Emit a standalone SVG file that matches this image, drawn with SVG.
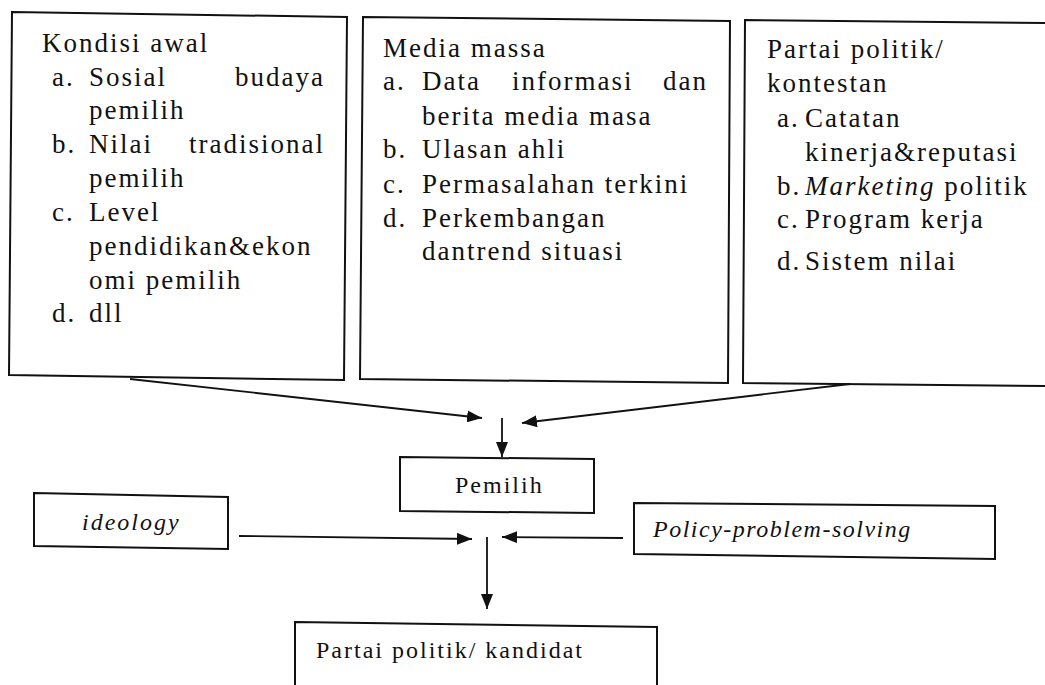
<svg xmlns="http://www.w3.org/2000/svg" width="1045" height="685" viewBox="0 0 1045 685">
<style>
.box{fill:none;stroke:#111;stroke-width:2}
.t{font-size:27px;letter-spacing:2px;fill:#111}
.s{font-size:24px;letter-spacing:2px;fill:#111}
.i{font-style:italic}
.c{fill:none;stroke:#111;stroke-width:1.8}
</style>
<defs>
<marker id="ah" markerUnits="userSpaceOnUse" markerWidth="16" markerHeight="12" refX="15" refY="6" orient="auto">
<path d="M0,0 L15,6 L0,12 z" fill="#111"/>
</marker>
</defs>
<rect width="1045" height="685" fill="#fff"/>
<g font-family="Liberation Serif, serif">
<g id="kondisi">
<polygon class="box" points="12,12 347,17 344,380 9,375"/>
<text class="t" x="42" y="52">Kondisi awal</text>
<text class="t" x="52" y="86">a.</text>
<text class="t" x="89" y="86">Sosial</text>
<text class="t" x="325" y="86" text-anchor="end">budaya</text>
<text class="t" x="89" y="119">pemilih</text>
<text class="t" x="52" y="153">b.</text>
<text class="t" x="89" y="153">Nilai</text>
<text class="t" x="325" y="153" text-anchor="end">tradisional</text>
<text class="t" x="89" y="187">pemilih</text>
<text class="t" x="52" y="221">c.</text>
<text class="t" x="89" y="221">Level</text>
<text class="t" x="89" y="255">pendidikan&amp;ekon</text>
<text class="t" x="89" y="289">omi pemilih</text>
<text class="t" x="52" y="322">d.</text>
<text class="t" x="89" y="322">dll</text>
</g>

<g id="media">
<polygon class="box" points="363,17 730,21 728,383 360,379"/>
<text class="t" x="383" y="57">Media massa</text>
<text class="t" x="383" y="90">a.</text>
<text class="t" x="422" y="90">Data</text>
<text class="t" x="512" y="90">informasi</text>
<text class="t" x="708" y="90" text-anchor="end">dan</text>
<text class="t" x="422" y="125">berita media masa</text>
<text class="t" x="383" y="158">b.</text>
<text class="t" x="422" y="158">Ulasan ahli</text>
<text class="t" x="383" y="193">c.</text>
<text class="t" x="422" y="193">Permasalahan terkini</text>
<text class="t" x="383" y="227">d.</text>
<text class="t" x="422" y="227">Perkembangan</text>
<text class="t" x="422" y="260">dantrend situasi</text>
</g>

<g id="partai">
<polygon class="box" points="745,20 1050,23 1050,386 743,383"/>
<text class="t" x="767" y="58">Partai politik/</text>
<text class="t" x="767" y="92">kontestan</text>
<text class="t" x="777" y="127">a.</text>
<text class="t" x="805" y="127">Catatan</text>
<text class="t" x="805" y="161">kinerja&amp;reputasi</text>
<text class="t" x="777" y="195">b.</text>
<text class="t" x="805" y="195"><tspan class="i">Marketing</tspan> politik</text>
<text class="t" x="777" y="228">c.</text>
<text class="t" x="805" y="228">Program kerja</text>
<text class="t" x="777" y="270">d.</text>
<text class="t" x="805" y="270">Sistem nilai</text>
</g>

<g id="pemilih">
<polygon class="box" points="400,457 594,459 594,513 400,511"/>
<text class="s" x="455" y="493">Pemilih</text>
</g>

<g id="ideology">
<polygon class="box" points="34,493 228,497 228,549 34,546"/>
<text class="s i" x="82" y="530">ideology</text>
</g>

<g id="policy">
<polygon class="box" points="634,503 995,506 995,559 634,554"/>
<text class="s i" x="653" y="537" style="letter-spacing:1.5px">Policy-problem-solving</text>
</g>

<g id="kandidat">
<polygon class="box" points="295,622 657,627 657,690 295,690"/>
<text class="s" x="316" y="658">Partai politik/ kandidat</text>
</g>
</g>
<g id="connectors">
<line class="c" x1="130" y1="379" x2="482" y2="418" marker-end="url(#ah)"/>
<line class="c" x1="850" y1="384" x2="522" y2="423" marker-end="url(#ah)"/>
<line class="c" x1="502" y1="418" x2="502" y2="457" marker-end="url(#ah)"/>
<line class="c" x1="239" y1="536" x2="472" y2="539" marker-end="url(#ah)"/>
<line class="c" x1="623" y1="538" x2="502" y2="537" marker-end="url(#ah)"/>
<line class="c" x1="487" y1="537" x2="487" y2="609" marker-end="url(#ah)"/>
</g>
</svg>
